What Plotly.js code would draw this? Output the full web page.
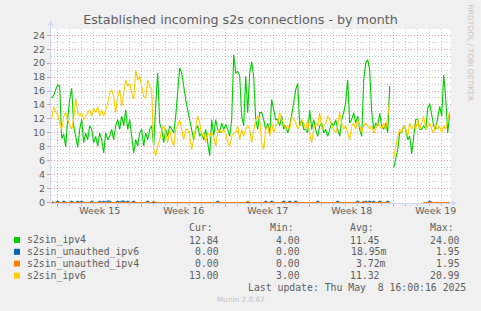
<!DOCTYPE html>
<html><head><meta charset="utf-8">
<script src="https://cdn.plot.ly/plotly-3.0.1.min.js"></script>
<style>html,body{margin:0;padding:0;background:#f0f0f0;overflow:hidden;} #chart{width:481px;height:311px;}</style>
</head><body><div id="chart"></div>
<script>
// ---------------- data ----------------
const seriesNames = ['s2sin_ipv4', 's2sin_unauthed_ipv6', 's2sin_unauthed_ipv4', 's2sin_ipv6'];
const seriesColors = ['#00cc00', '#0066b3', '#ff8000', '#ffcc00'];
const statHeaders = ['Cur:', 'Min:', 'Avg:', 'Max:'];
const statCur = ['12.84', '0.00', '0.00', '13.00'];
const statMin = ['4.00', '0.00', '0.00', '3.00'];
const statAvg = ['11.45', '18.95m', '3.72m', '11.32'];
const statMax = ['24.00', '1.95', '1.95', '20.99'];
const weekLabels = ['Week 15', 'Week 16', 'Week 17', 'Week 18', 'Week 19'];
const weekMid = ['2025-04-09 12:00', '2025-04-16 12:00', '2025-04-23 12:00', '2025-04-30 12:00', '2025-05-07 12:00'];
const lastUpdate = 'Last update: Thu May\u00a0\u00a08 16:00:16 2025';
const lastSampleUTC = [2025, 4, 8, 16, 0];   // last sample, 4-hour steps back from here
const sampleHours = 4;

const ipv4 = [
15.0,15.4,16.2,16.9,16.7,9.2,9.8,8.0,12.0,14.8,16.4,11.0,9.5,7.9,10.5,11.9,8.6,10.0,9.0,11.0,
10.5,8.6,9.5,8.1,10.0,9.0,7.1,10.0,9.0,9.5,10.5,9.0,11.0,11.9,10.5,12.4,11.0,13.3,10.5,11.9,
9.5,7.1,9.0,8.1,10.0,10.5,8.1,10.0,9.0,10.5,11.0,8.1,14.0,18.6,11.4,10.5,8.6,10.5,9.5,11.0,
10.5,10.0,12.4,16.2,19.3,18.6,16.5,14.8,13.3,11.9,10.0,9.0,10.5,11.0,9.5,10.0,9.0,10.5,8.6,6.7,
11.9,9.5,11.9,10.5,10.0,11.4,10.5,11.2,10.5,9.5,11.9,21.2,18.6,18.8,18.1,12.4,11.0,18.1,12.9,18.6,
20.2,18.0,11.9,10.5,12.9,12.9,11.9,10.5,11.4,10.0,14.8,13.3,11.9,11.9,11.0,12.4,10.5,11.0,10.0,11.0,
12.4,14.3,16.2,17.1,11.0,11.9,10.5,10.5,10.0,13.3,10.5,11.9,10.5,9.5,11.0,11.4,10.0,10.5,9.5,10.5,
11.4,11.0,11.9,10.5,9.5,11.9,12.9,14.3,17.6,11.4,11.9,12.9,11.4,12.4,10.5,9.5,17.6,20.0,20.5,19.0,
13.0,10.5,11.4,11.0,12.8,11.0,10.5,11.4,10.0,16.7,null,5.0,6.2,7.6,10.0,10.0,11.0,10.5,9.0,9.5,
7.0,9.5,11.9,12.0,10.5,10.5,11.0,10.5,13.5,14.2,12.8,11.0,10.5,11.9,13.8,12.4,18.3,15.0,10.0,12.8
];
const unauthIpv6 = [
0,0,0,.2,0,0,.2,0,0,0,.2,0,0,.2,0,.2,0,0,0,0,
.2,0,0,0,.2,0,.2,0,.2,.2,0,0,0,.2,0,.2,.2,0,.2,0,
0,.2,0,0,0,0,0,0,.2,0,0,0,0,0,0,0,0,0,0,0,
0,0,0,0,0,0,0,0,0,0,0,0,0,0,0,0,0,0,0,0,
0,0,0,.2,0,0,0,0,0,0,0,0,0,0,0,0,0,0,0,0,
0,0,0,0,0,0,0,.2,0,0,.2,0,0,0,0,0,.2,0,0,.2,
0,0,.2,0,0,0,0,0,0,0,0,0,0,.2,0,0,0,0,0,0,
0,0,0,.2,0,0,0,0,0,0,0,0,0,.2,0,0,0,.2,0,.2,
0,.2,0,0,.2,0,0,0,.2,0,null,null,null,null,null,null,null,null,null,null,
null,null,null,null,null,null,0,0,0,.2,0,0,0,0,0,0,0,0,0,0
];
const unauthIpv4 = [
.2,0,0,0,0,0,0,0,0,0,0,0,0,0,0,0,0,0,0,0,
0,0,0,0,0,0,0,0,0,0,0,0,0,0,0,0,0,0,0,0,
0,0,0,0,0,0,0,0,0,0,0,.2,0,0,0,0,0,0,0,0,
0,0,0,0,0,0,0,0,0,0,0,0,0,0,0,0,0,0,0,0,
0,0,0,0,0,0,0,0,0,0,0,0,0,0,0,0,0,0,.2,0,
0,0,0,0,0,0,0,0,0,0,0,0,0,0,0,0,0,0,0,0,
0,0,0,0,0,0,0,0,0,0,0,0,0,0,0,0,0,0,0,0,
0,0,0,0,0,0,0,0,0,0,0,0,0,0,0,0,.2,0,0,0,
0,0,0,0,0,0,0,0,0,0,null,null,null,null,null,null,null,null,null,null,
null,null,null,null,null,null,0,0,0,0,0,0,0,0,0,0,0,0,0,0
];
const ipv6 = [
12.0,13.8,13.0,12.6,11.4,10.5,12.4,12.9,11.9,11.0,10.5,12.0,15.0,12.9,12.4,12.9,11.9,12.4,12.9,13.3,
12.4,13.5,12.9,13.8,12.4,13.3,12.4,13.3,14.3,15.7,16.2,15.2,12.9,15.2,16.2,13.8,15.7,17.6,16.7,17.1,
15.7,14.8,19.0,17.6,18.1,16.7,15.2,15.0,17.6,16.7,16.2,7.6,6.7,8.1,9.0,10.5,11.0,10.0,8.6,10.5,
9.0,8.1,10.5,11.0,11.9,10.5,9.0,10.5,10.5,9.5,7.6,9.0,10.5,12.4,11.4,9.5,10.0,8.6,10.0,9.5,
10.0,9.5,8.1,10.0,10.5,10.0,10.5,10.0,8.6,8.1,9.5,10.0,10.0,11.0,9.0,10.5,9.5,10.5,11.0,10.5,
8.6,10.5,11.9,12.4,12.0,8.6,7.6,10.5,11.0,9.5,11.4,10.0,11.0,11.4,12.9,11.9,11.4,10.5,11.0,10.5,
12.4,11.9,11.4,10.5,11.0,11.9,11.4,10.5,11.9,10.0,8.6,10.5,11.4,11.0,12.9,10.5,11.0,11.4,12.4,11.9,
11.0,10.5,10.0,11.0,13.0,11.4,10.5,11.0,10.0,9.0,11.0,11.4,10.5,11.9,11.0,10.0,11.0,11.4,11.0,10.5,
11.0,10.0,10.5,11.4,11.0,10.5,11.4,10.5,12.4,14.3,null,6.4,8.1,9.5,10.5,10.0,11.0,10.5,9.5,11.4,
10.5,11.0,10.5,11.9,10.5,11.4,12.4,10.5,11.0,11.4,10.5,10.0,11.4,10.5,11.0,10.0,11.0,10.5,11.9,13.0
];
const seriesValues = [ipv4, unauthIpv6, unauthIpv4, ipv6];

// ---------------- time axis ----------------
const endMs = Date.UTC(...lastSampleUTC);
const stepMs = sampleHours * 3600 * 1000;
const fmt = ms => new Date(ms).toISOString().slice(0, 19).replace('T', ' ');
const times = ipv4.map((_, i) => fmt(endMs - (ipv4.length - 1 - i) * stepMs));
const xRange = ['2025-04-05 10:36', '2025-05-08 18:36'];

// ---------------- geometry helpers (pixels -> paper) ----------------
const W = 481, H = 311;
const M = {l: 51, r: 30, t: 29, b: 108};
const PW = W - M.l - M.r, PH = H - M.t - M.b;
const px = x => (x - M.l) / PW;
const py = y => (H - M.b - y) / PH;

const FONT = 'DejaVu Sans, sans-serif';
const MONO = 'DejaVu Sans Mono, monospace';
const TXT = '#5e5e5e';
const AXIS = '#cfd6f8';
const MGRID = 'rgba(205,60,60,0.45)';
const GRID = 'rgba(140,140,140,0.45)';

const traces = seriesValues.map((vals, k) => ({
  type: 'scatter', mode: 'lines', x: times, y: vals, name: seriesNames[k],
  line: {color: seriesColors[k], width: 1.1}, connectgaps: false, hoverinfo: 'skip'
}));
traces.push({type: 'scatter', mode: 'lines', x: weekMid, y: weekMid.map(() => null),
  xaxis: 'x2', yaxis: 'y', hoverinfo: 'skip', showlegend: false});

// ---------------- legend (annotations + shapes) ----------------
const annotations = [];
const shapes = [];
const LS = 9.8, CW = LS * 0.602;
const rowY = [240, 251.8, 263.6, 275.6];
const colEnd = [225.2, 306.2, 386.2, 466.2];
const stats = [statCur, statMin, statAvg, statMax];
const ann = (text, x, y, xanchor, size, color, family, extra) => Object.assign({
  text, x: px(x), y: py(y), xref: 'paper', yref: 'paper', xanchor, yanchor: 'middle',
  showarrow: false, borderpad: 0, borderwidth: 0,
  font: {size, color, family}}, extra || {});

statHeaders.forEach((h, c) => annotations.push(ann(h, colEnd[c] - 2 * CW, 227.8, 'right', LS, TXT, MONO)));
seriesNames.forEach((name, r) => {
  annotations.push(ann(name, 26.7, rowY[r], 'left', LS, TXT, MONO));
  stats.forEach((col, c) => {
    const v = col[r];
    const end = v.endsWith('m') ? colEnd[c] : colEnd[c] - CW;
    annotations.push(ann(v, end, rowY[r], 'right', LS, TXT, MONO));
  });
  shapes.push({type: 'rect', xref: 'paper', yref: 'paper',
    x0: px(14), x1: px(20), y0: py(rowY[r] + 3), y1: py(rowY[r] - 3),
    fillcolor: seriesColors[r], line: {width: 0}});
});
annotations.push(ann(lastUpdate, 466, 287.8, 'right', LS, TXT, MONO));
annotations.push(ann('Munin 2.0.67', 240.5, 299.3, 'center', 7.3, '#c4c4c4', FONT));
annotations.push(ann('RRDTOOL / TOBI OETIKER', 470.5, 53, 'center', 7.5, '#c4c4c4', FONT, {textangle: 90}));

// axis arrows
const P = (x, y) => `${px(x)},${py(y)}`;
shapes.push({type: 'line', xref: 'paper', yref: 'paper', x0: px(50.5), x1: px(50.5), y0: py(29), y1: py(24),
  line: {color: AXIS, width: 1}});
shapes.push({type: 'path', xref: 'paper', yref: 'paper', path: `M${P(50.5, 20)} L${P(48, 25.5)} L${P(53, 25.5)} Z`,
  fillcolor: AXIS, line: {width: 0}});
shapes.push({type: 'path', xref: 'paper', yref: 'paper', path: `M${P(457, 203)} L${P(451.5, 200.5)} L${P(451.5, 205.5)} Z`,
  fillcolor: AXIS, line: {width: 0}});

const layout = {
  width: W, height: H,
  paper_bgcolor: '#f0f0f0', plot_bgcolor: '#ffffff',
  margin: {l: M.l, r: M.r, t: M.t, b: M.b, pad: 0},
  showlegend: false,
  font: {family: FONT, color: TXT, size: 9.5},
  title: {text: 'Established incoming s2s connections - by month',
    font: {family: FONT, size: 12.7, color: TXT},
    x: 0.5, xref: 'container', xanchor: 'center', y: 1 - 19.5 / H, yref: 'container', yanchor: 'middle'},
  xaxis: {type: 'date', range: xRange, showticklabels: false,
    tick0: '2025-04-06', dtick: 7 * 864e5,
    showgrid: true, gridcolor: MGRID, griddash: '1px,2px', gridwidth: 1,
    ticks: 'outside', ticklen: 3, tickcolor: MGRID,
    showline: true, linecolor: AXIS, linewidth: 1, zeroline: false, layer: 'below traces',
    minor: {tick0: '2025-04-06', dtick: 864e5, showgrid: true, gridcolor: GRID, griddash: '1px,2px',
      ticks: 'outside', ticklen: 2, tickcolor: GRID},
    fixedrange: true},
  xaxis2: {type: 'date', range: xRange, overlaying: 'x', anchor: 'y', side: 'bottom',
    tickmode: 'array', tickvals: weekMid, ticktext: weekLabels,
    showgrid: false, ticks: '', showline: false, zeroline: false,
    tickfont: {family: FONT, size: 9.5, color: TXT}, fixedrange: true},
  yaxis: {range: [-0.072, 24.9], tick0: 0, dtick: 2,
    showgrid: true, gridcolor: MGRID, griddash: '1px,2px', gridwidth: 1,
    minor: {dtick: 1, tick0: 0, showgrid: true, gridcolor: GRID, griddash: '1px,2px'},
    ticks: 'outside', ticklen: 3, tickcolor: MGRID,
    showline: true, linecolor: AXIS, linewidth: 1, zeroline: false, layer: 'below traces',
    tickfont: {family: FONT, size: 9.5, color: TXT}, fixedrange: true},
  annotations, shapes
};

Plotly.newPlot('chart', traces, layout, {staticPlot: true, displayModeBar: false});
</script>
</body></html>
